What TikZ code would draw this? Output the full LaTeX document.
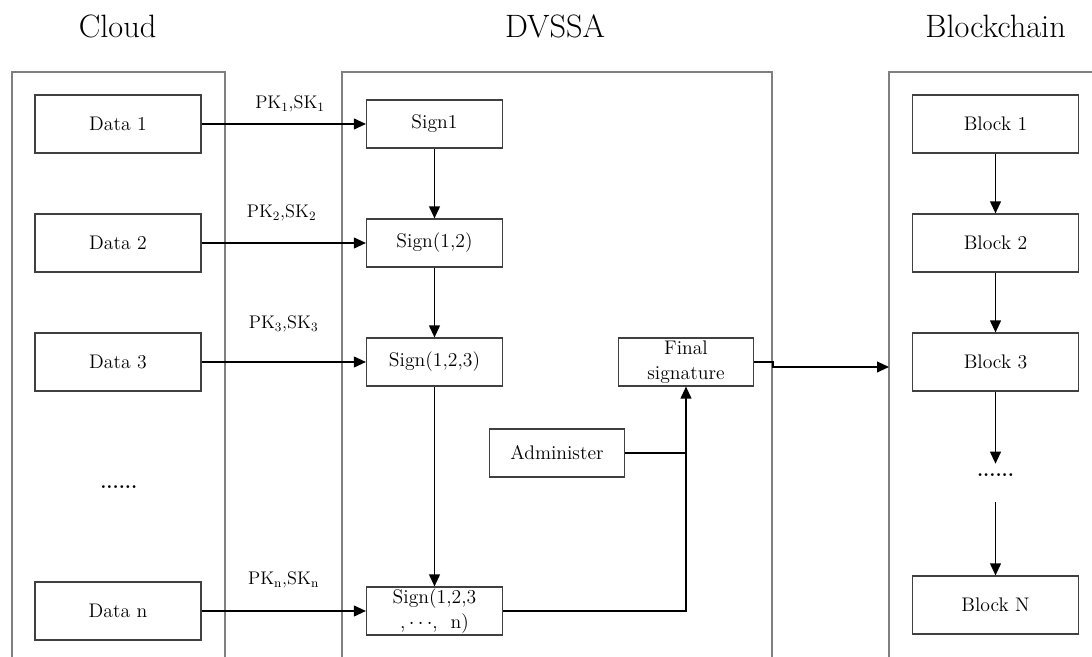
\documentclass[tikz,border=0pt]{standalone}
\usetikzlibrary{arrows.meta, calc}
\definecolor{panelgray}{HTML}{808080}
\definecolor{boxgray}{HTML}{404040}

\begin{document}
\begin{tikzpicture}[>={Triangle[length=3mm, width=2.7mm]},
  panel/.style={panelgray, line width=0.8pt},
  databox/.style={draw=boxgray, line width=0.8pt, minimum width=4.15cm,
    minimum height=1.45cm, font=\fontsize{14}{17.5}\selectfont},
  signbox/.style={draw=boxgray, line width=0.8pt, minimum width=3.4cm,
    minimum height=1.2cm, inner sep=1pt, align=center,
    font=\fontsize{14}{17.5}\selectfont},
  keylabel/.style={font=\fontsize{13}{15}\selectfont},
  title/.style={anchor=base, font=\fontsize{23}{27}\selectfont},
  dots/.style={font=\fontsize{14}{16}\selectfont\bfseries},
  conn/.style={black, line width=1.1pt}]

\useasboundingbox (0,0) rectangle (27.3,16.425);

% Panels (open at the bottom)
\draw[panel] (0.30,0) -- (0.30,14.625) -- (5.625,14.625) -- (5.625,0);
\draw[panel] (8.55,0) -- (8.55,14.625) -- (19.30,14.625) -- (19.30,0);
\draw[panel] (22.225,0) -- (22.225,14.625) -- (27.4,14.625);
\coordinate (chainin) at (22.225,7.25);

% Titles
\node[title] (tcloud) at (2.94,15.475) {Cloud};
\node[title] (tdvssa) at (13.875,15.475) {DVSSA};
\node[title] (tchain) at (24.89,15.475) {Blockchain};

% ================================================================
% Cloud: data items
% ================================================================
\node[databox] (d1) at (2.95,13.325) {Data 1};
\node[databox] (d2) at (2.95,10.35) {Data 2};
\node[databox] (d3) at (2.95,7.375) {Data 3};
\node[dots] (ddots) at (2.97,4.24) {......};
\node[databox] (dn) at (2.95,1.15) {Data n};

% ================================================================
% DVSSA: aggregated signatures
% ================================================================
\node[signbox] (s1) at (10.8625,13.325) {Sign1};
\node[signbox] (s2) at (10.8625,10.35) {Sign(1,2)};
\node[signbox] (s3) at (10.8625,7.375) {Sign(1,2,3)};
\node[signbox] (sn) at (10.8625,1.15) {Sign(1,2,3\\,\,$\cdots$,~ n)};

\node[signbox, minimum width=3.375cm] (fsig) at (17.15,7.375) {Final\\signature};
\node[signbox, minimum width=3.375cm] (admin) at (13.925,5.1) {Administer};

% Keys on the way in
\node[keylabel] (k1) at (7.25,13.825) {PK\textsubscript{1},SK\textsubscript{1}};
\node[keylabel] (k2) at (7.04,11.1) {PK\textsubscript{2},SK\textsubscript{2}};
\node[keylabel] (k3) at (7.09,8.325) {PK\textsubscript{3},SK\textsubscript{3}};
\node[keylabel] (kn) at (7.09,1.925) {PK\textsubscript{n},SK\textsubscript{n}};

\draw[conn, ->] (d1.east) -- (s1.west);
\draw[conn, ->] (d2.east) -- (s2.west);
\draw[conn, ->] (d3.east) -- (s3.west);
\draw[conn, ->] (dn.east) -- (sn.west);

\draw[conn, ->] (s1.south) -- (s2.north);
\draw[conn, ->] (s2.south) -- (s3.north);
\draw[conn, ->] (s3.south) -- (sn.north);

\draw[conn, ->] (sn.east) -| (fsig.south);
\draw[conn] (admin.east) -- (fsig.south |- admin.east);

% Final signature goes on chain
\draw[conn, ->] (fsig.east) -- ++(0.475,0) |- (chainin);

% ================================================================
% Blockchain
% ================================================================
\node[databox] (b1) at (24.8875,13.325) {Block 1};
\node[databox] (b2) at (24.8875,10.35) {Block 2};
\node[databox] (b3) at (24.8875,7.375) {Block 3};
\node[dots, minimum height=0.95cm, text height=0.1cm, text depth=0.4cm,
      inner sep=0pt] (cdots) at (24.8875,4.35) {......};
\node[databox] (bn) at (24.8875,1.30) {Block N};

\draw[conn, ->] (b1.south) -- (b2.north);
\draw[conn, ->] (b2.south) -- (b3.north);
\draw[conn, ->] (b3.south) -- (cdots.north);
\draw[conn, ->] (cdots.south) -- (bn.north);

\end{tikzpicture}
\end{document}
